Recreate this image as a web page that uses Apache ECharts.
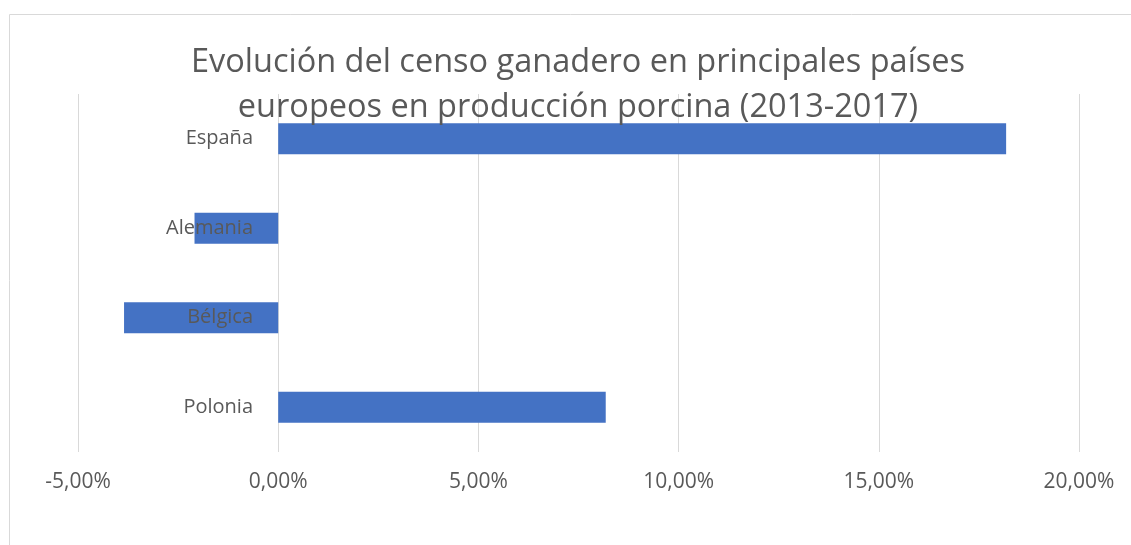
<!DOCTYPE html>
<html>
<head>
<meta charset="utf-8">
<script src="https://cdn.jsdelivr.net/npm/echarts@6/dist/echarts.min.js"></script>
<style>
  html, body { margin: 0; padding: 0; background: #fff; }
  #show { width: 1131px; height: 545px; }
</style>
</head>
<body>
<div id="show"></div>
<script>
    // datos (en %)
    var paises = ['España', 'Alemania', 'Bélgica', 'Polonia'];
    var variacion = [18.18, -2.09, -3.85, 8.18];
    var titulo = 'Evolución del censo ganadero en principales países\neuropeos en producción porcina (2013-2017)';

    var myChart = echarts.init(document.getElementById('show'));

    var option = {
        animation: false,
        title: {
            text: titulo,
            left: 573,
            textAlign: 'center',
            top: 35,
            textStyle: {
                fontFamily: 'Open Sans',
                fontSize: 32.5,
                fontWeight: 'normal',
                color: '#595959',
                lineHeight: 45
            }
        },
        graphic: [{
            type: 'rect',
            shape: { x: 9.5, y: 14.5, width: 1140, height: 560 },
            style: { fill: 'none', stroke: '#d9d9d9', lineWidth: 1 },
            silent: true
        }],
        grid: { left: 78, right: 52, top: 94, bottom: 93, containLabel: false, outerBoundsMode: 'none' },
        xAxis: {
            type: 'value',
            min: -5,
            max: 20,
            interval: 5,
            axisLine: { show: false },
            axisTick: { show: false },
            splitLine: { lineStyle: { color: '#d9d9d9', width: 1 } },
            axisLabel: {
                margin: 20,
                fontFamily: 'Open Sans',
                fontSize: 21,
                color: '#595959',
                formatter: function (v) {
                    return v.toFixed(2).replace('.', ',') + '%';
                }
            }
        },
        yAxis: {
            type: 'category',
            inverse: true,
            data: paises,
            z: 5,
            position: 'left',
            offset: -200, // eje en el 0%
            axisLine: { show: false },
            axisTick: { show: false },
            axisLabel: {
                margin: 25,
                fontFamily: 'Open Sans',
                fontSize: 20,
                color: '#595959'
            }
        },
        series: [{
            type: 'bar',
            data: variacion,
            barWidth: 31,
            itemStyle: { color: '#4472c4' }
        }]
    };

    myChart.setOption(option);
</script>
</body>
</html>
